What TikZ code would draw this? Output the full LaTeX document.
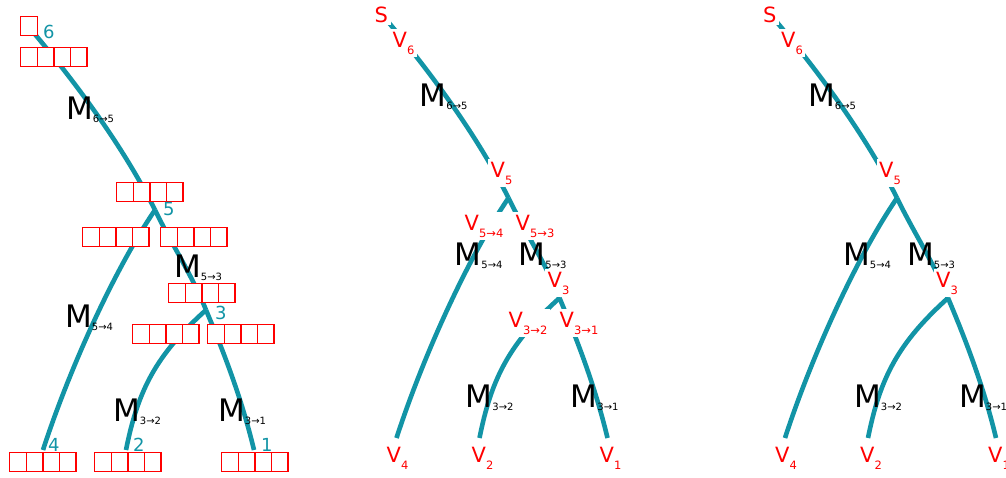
\documentclass[tikz,border=0pt]{standalone}
\usepackage{fontspec}
\setmainfont{DejaVu Sans}
\definecolor{tealline}{RGB}{18,148,166}
\definecolor{redbox}{RGB}{255,0,0}
\newcommand\MM[1]{{\fontsize{31}{31}\selectfont M}\raisebox{-3.5pt}{\fontsize{10}{10}\selectfont #1}}
\newcommand\VV[2]{{\fontsize{21}{21}\selectfont #1}\raisebox{-7.5pt}{\fontsize{11.5}{11.5}\selectfont #2}}
\newcommand\drawtree[3]{%
  \begin{scope}[shift={(#2,#3)}]
    \coordinate (#1R) at (770,14);
    \coordinate (#1B5) at (897,198);
    \coordinate (#1B3) at (948,298);
    \coordinate (#1L4) at (785,438);
    \coordinate (#1L2) at (868,438);
    \coordinate (#1L1) at (996,438);
    \draw[edge] (#1R) .. controls +(51,60) and +(-30,-60) .. (#1B5);
    \draw[edge] (#1B5) .. controls +(17,35) and +(-14,-35) .. (#1B3);
    \draw[edge] (#1B5) .. controls +(-41,60) and +(26,-80) .. (#1L4);
    \draw[edge] (#1B3) .. controls +(-50,45) and +(12,-60) .. (#1L2);
    \draw[edge] (#1B3) .. controls +(19,45) and +(-12,-50) .. (#1L1);
  \end{scope}}
\newcommand\cellrow[3]{\foreach \i in {0,...,3} \node[cell] (#1-\i) at ({#2+\i*16.6},#3) {};}
\tikzset{
  edge/.style={draw=tealline, line width=4.6pt},
  cell/.style={draw=redbox, fill=white, line width=1.3pt, minimum width=16.6pt, minimum height=19pt, inner sep=0pt, anchor=north west},
  mlab/.style={anchor=base west, inner sep=0pt, text=black},
  vlab/.style={anchor=base west, inner sep=2.5pt, xshift=-2.5pt, fill=white, text=redbox},
  num/.style={anchor=base west, inner sep=0pt, text=tealline, font=\fontsize{18}{18}\selectfont}
}
\begin{document}
\begin{tikzpicture}[x=1pt,y=-1pt]
\useasboundingbox (0,0) rectangle (1006,477);
% trees
\drawtree{a}{-742}{12}
\drawtree{b}{-388.5}{0}
\drawtree{c}{0}{0}
% panel 1 boxes
\node[cell, minimum width=17pt] (root6) at (20,16) {};
\cellrow{r6}{20}{47}
\cellrow{r5}{116}{182}
\cellrow{r54}{82}{227}
\cellrow{r53}{160}{227}
\cellrow{r3}{168}{283}
\cellrow{r32}{132}{324}
\cellrow{r31}{207}{324}
\cellrow{r4}{9}{452}
\cellrow{r2}{94}{452}
\cellrow{r1}{221}{452}
% panel 1 labels
\node[num] (n6) at (43,38) {6};
\node[num] (n5) at (163,215) {5};
\node[num] (n3) at (215,319) {3};
\node[num] (n4) at (48,451) {4};
\node[num] (n2) at (133,451) {2};
\node[num] (n1) at (261,451) {1};
\node[mlab] (am65) at (66,119) {\MM{6→5}};
\node[mlab] (am54) at (65,327) {\MM{5→4}};
\node[mlab] (am53) at (174,277) {\MM{5→3}};
\node[mlab] (am32) at (113,421) {\MM{3→2}};
\node[mlab] (am31) at (218,421) {\MM{3→1}};
% panel 2 labels
\begin{scope}[shift={(-388.5,0)}]
\node[vlab] (bS) at (763,22) {\fontsize{21}{21}\selectfont S};
\node[vlab] (bV6) at (781,47) {\VV{V}{6}};
\node[mlab] (bm65) at (808,106) {\MM{6→5}};
\node[vlab] (bV5) at (879,177) {\VV{V}{5}};
\node[vlab] (bV54) at (853,230) {\VV{V}{5→4}};
\node[vlab] (bV53) at (904,230) {\VV{V}{5→3}};
\node[mlab] (bm54) at (843,265) {\MM{5→4}};
\node[mlab] (bm53) at (907,265) {\MM{5→3}};
\node[vlab] (bV3) at (936,287) {\VV{V}{3}};
\node[vlab] (bV32) at (897,327) {\VV{V}{3→2}};
\node[vlab] (bV31) at (948,327) {\VV{V}{3→1}};
\node[mlab] (bm32) at (854,407) {\MM{3→2}};
\node[mlab] (bm31) at (959,407) {\MM{3→1}};
\node[vlab] (bV4) at (775,462) {\VV{V}{4}};
\node[vlab] (bV2) at (860,462) {\VV{V}{2}};
\node[vlab] (bV1) at (988,462) {\VV{V}{1}};
\end{scope}
% panel 3 labels
\node[vlab] (cS) at (763,22) {\fontsize{21}{21}\selectfont S};
\node[vlab] (cV6) at (781,47) {\VV{V}{6}};
\node[mlab] (cm65) at (808,106) {\MM{6→5}};
\node[vlab] (cV5) at (879,177) {\VV{V}{5}};
\node[mlab] (cm54) at (843,265) {\MM{5→4}};
\node[mlab] (cm53) at (907,265) {\MM{5→3}};
\node[vlab] (cV3) at (936,287) {\VV{V}{3}};
\node[mlab] (cm32) at (854,407) {\MM{3→2}};
\node[mlab] (cm31) at (959,407) {\MM{3→1}};
\node[vlab] (cV4) at (775,462) {\VV{V}{4}};
\node[vlab] (cV2) at (860,462) {\VV{V}{2}};
\node[vlab] (cV1) at (988,462) {\VV{V}{1}};
\end{tikzpicture}
\end{document}
